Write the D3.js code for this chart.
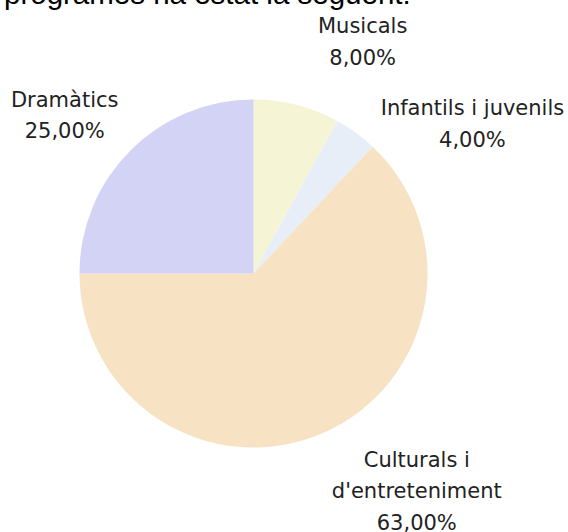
<!DOCTYPE html>
<html>
<head>
<meta charset="utf-8">
<script src="https://cdn.jsdelivr.net/npm/d3@7"></script>
<style>
  html, body { margin: 0; padding: 0; background: #fff; }
  svg { display: block; }
  .intro { font-family: "Liberation Sans", Arial, sans-serif; font-size: 29.5px; fill: #000; }
  .label { font-family: "DejaVu Sans", Verdana, sans-serif; font-size: 21px; fill: #222; }
</style>
</head>
<body>
<svg id="chart" width="568" height="532"></svg>
<script>
  /*
   * Data
   */

  // Slices, clockwise from 12 o'clock
  var CATEGORIES = ["Musicals", "Infantils i juvenils", "Culturals i d'entreteniment", "Dramàtics"];
  var VALUES = [8, 4, 63, 25];
  // How each category name is broken into lines on the chart
  var LABEL_LINES = [
    ["Musicals"],
    ["Infantils i juvenils"],
    ["Culturals i", "d'entreteniment"],
    ["Dramàtics"]
  ];
  var COLORS = ["#f5f5d6", "#e8eef8", "#f8e2c4", "#d3d3f5"];

  var INTRO_TEXT = "programes ha estat la següent:";

  /*
   * Layout
   */

  var CX = 253.5;
  var CY = 273.5;
  var RADIUS = 174;
  var LABEL_RADIUS = 250;   // where the label base point sits
  var LINE_HEIGHT = 31.5;
  // nudge of each label block from its base point (px)
  var LABEL_NUDGE = [[47, 2], [72, 44], [64, -36], [-12, 10]];

  var svg = d3.select("#chart");

  // cut-off sentence above the chart
  svg.append("text")
    .attr("class", "intro")
    .attr("x", 4)
    .attr("y", 4)
    .text(INTRO_TEXT);

  var pie = d3.pie().sort(null).value(function (d) { return d; });
  var arcs = pie(VALUES);

  var arc = d3.arc().innerRadius(0).outerRadius(RADIUS);
  var labelArc = d3.arc().innerRadius(LABEL_RADIUS).outerRadius(LABEL_RADIUS);

  var g = svg.append("g")
    .attr("transform", "translate(" + CX + "," + CY + ")");

  g.selectAll("path.slice")
    .data(arcs)
  .enter().append("path")
    .attr("class", "slice")
    .attr("d", arc)
    .attr("fill", function (d, i) { return COLORS[i]; });

  // numbers like 8,00%
  var locale = d3.formatLocale({ decimal: ",", thousands: ".", grouping: [3], currency: ["", "€"] });
  var total = d3.sum(VALUES);
  var fmt = locale.format(".2f");

  var labels = g.selectAll("text.label")
    .data(arcs)
  .enter().append("text")
    .attr("class", "label")
    .attr("text-anchor", "middle")
    .attr("transform", function (d, i) {
      var c = labelArc.centroid(d);
      return "translate(" + (c[0] + LABEL_NUDGE[i][0]) + "," + (c[1] + LABEL_NUDGE[i][1]) + ")";
    });

  labels.each(function (d, i) {
    var lines = LABEL_LINES[i].concat([fmt(100 * d.value / total) + "%"]);
    d3.select(this).selectAll("tspan")
      .data(lines)
    .enter().append("tspan")
      .attr("x", 0)
      .attr("y", function (l, j) { return j * LINE_HEIGHT; })
      .text(function (l) { return l; });
  });
</script>
</body>
</html>
